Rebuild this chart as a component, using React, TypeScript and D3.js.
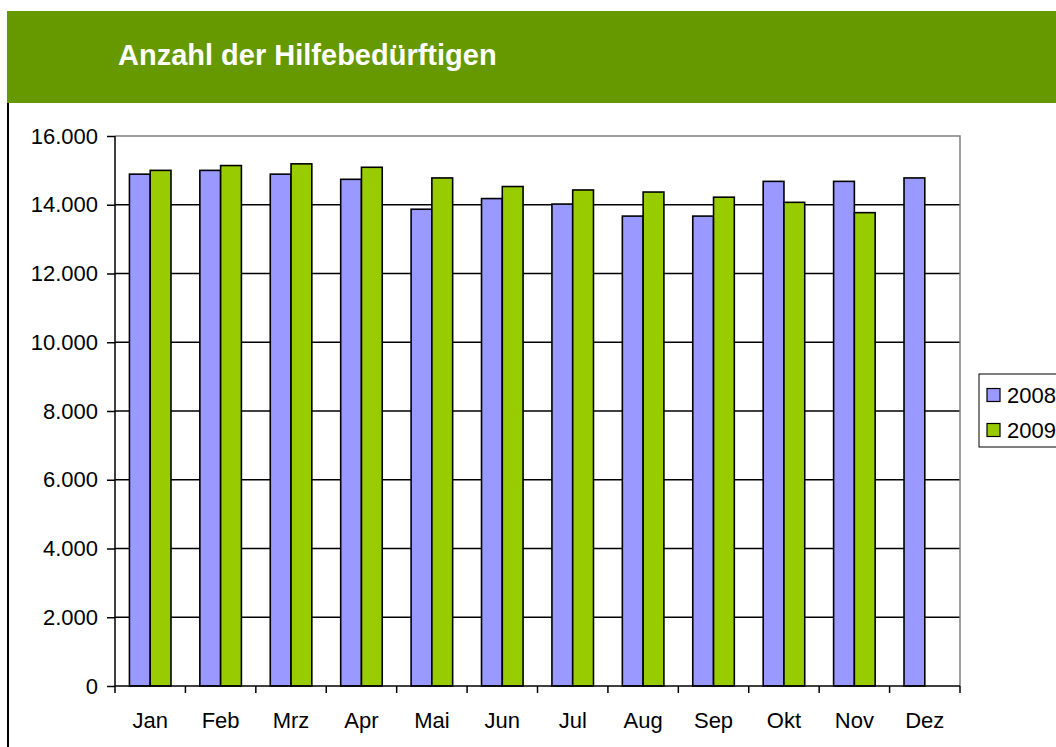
import { useEffect, useRef } from "react";
import * as d3 from "d3";

const months = ["Jan", "Feb", "Mrz", "Apr", "Mai", "Jun", "Jul", "Aug", "Sep", "Okt", "Nov", "Dez"];
const values2008 = [14890, 15000, 14890, 14740, 13870, 14180, 14020, 13670, 13670, 14680, 14680, 14780];
const values2009: (number | null)[] = [15000, 15140, 15190, 15090, 14780, 14530, 14430, 14370, 14220, 14070, 13770, null];
const yTicks = [0, 2000, 4000, 6000, 8000, 10000, 12000, 14000, 16000];
const seriesNames = ["2008", "2009"];
const seriesColors = ["#9999ff", "#99cc00"];

const W = 1056;
const H = 747;
const FONT = "Liberation Sans, Arial, sans-serif";

export default function App() {
  const svgRef = useRef<SVGSVGElement | null>(null);

  useEffect(() => {
    const svg = svgRef.current;
    if (!svg) return;
    svg.innerHTML = "";
    const root = d3.select(svg);

    const plot = { left: 115, right: 960, top: 136, bottom: 686 };
    const de = d3.formatLocale({
      decimal: ",",
      thousands: ".",
      grouping: [3],
      currency: ["", " €"],
    });
    const fmt = de.format(",d");

    // header band
    root.append("rect").attr("x", 7).attr("y", 11).attr("width", W - 7).attr("height", 92).attr("fill", "#669900");
    root
      .append("text")
      .attr("x", 118)
      .attr("y", 65)
      .attr("fill", "#ffffff")
      .attr("font-family", FONT)
      .attr("font-weight", "bold")
      .attr("font-size", 29)
      .text("Anzahl der Hilfebedürftigen");

    // left frame line
    root.append("line").attr("x1", 8).attr("x2", 8).attr("y1", 103).attr("y2", H).attr("stroke", "#000").attr("stroke-width", 2);

    const x = d3
      .scaleBand()
      .domain(months)
      .range([plot.left, plot.right])
      .paddingInner(0.41)
      .paddingOuter(0.205);
    const xs = d3.scaleBand().domain(seriesNames).range([0, x.bandwidth()]).padding(0);
    const y = d3.scaleLinear().domain([0, 16000]).range([plot.bottom, plot.top]);

    const g = root.append("g");

    // gridlines
    g.selectAll("line.grid")
      .data(yTicks.filter((t) => t > 0 && t < 16000))
      .join("line")
      .attr("x1", plot.left)
      .attr("x2", plot.right)
      .attr("y1", (d) => y(d))
      .attr("y2", (d) => y(d))
      .attr("stroke", "#000")
      .attr("stroke-width", 1.5);

    // plot border (top, right) gray
    g.append("path")
      .attr("d", `M${plot.left},${y(16000)}H${plot.right}V${plot.bottom}`)
      .attr("fill", "none")
      .attr("stroke", "#808080")
      .attr("stroke-width", 1.5);

    // bars
    const series = [values2008, values2009];
    series.forEach((vals, si) => {
      g.append("g")
        .selectAll("rect")
        .data(months.map((m, i) => ({ m, v: vals[i] })).filter((d) => d.v != null))
        .join("rect")
        .attr("x", (d) => x(d.m)! + xs(seriesNames[si])!)
        .attr("y", (d) => y(d.v as number))
        .attr("width", xs.bandwidth())
        .attr("height", (d) => plot.bottom - y(d.v as number))
        .attr("fill", seriesColors[si])
        .attr("stroke", "#000")
        .attr("stroke-width", 1.6);
    });

    // y axis
    const yAxis = g
      .append("g")
      .attr("transform", `translate(${plot.left},0)`)
      .call(d3.axisLeft(y).tickValues(yTicks).tickFormat((d) => fmt(d as number)).tickSize(8).tickPadding(9));
    yAxis.select(".domain").attr("stroke", "#000").attr("stroke-width", 1.5).attr("d", `M0,${plot.top}V${plot.bottom}`);
    yAxis.selectAll(".tick line").attr("stroke", "#000").attr("stroke-width", 1.5);
    yAxis.selectAll("text").attr("font-family", FONT).attr("font-size", 22).attr("fill", "#000");

    // x axis
    const xAxis = g
      .append("g")
      .attr("transform", `translate(0,${plot.bottom})`)
      .call(d3.axisBottom(x).tickSize(0).tickPadding(26));
    xAxis.select(".domain").attr("stroke", "#000").attr("stroke-width", 1.5).attr("d", `M${plot.left},0H${plot.right}`);
    xAxis.selectAll("text").attr("font-family", FONT).attr("font-size", 22).attr("fill", "#000");
    xAxis
      .selectAll("line.cat")
      .data(d3.range(months.length + 1))
      .join("line")
      .attr("class", "cat")
      .attr("x1", (i) => plot.left + i * x.step())
      .attr("x2", (i) => plot.left + i * x.step())
      .attr("y1", 0)
      .attr("y2", 7)
      .attr("stroke", "#000")
      .attr("stroke-width", 1.5);

    // legend
    const lg = root.append("g").attr("transform", "translate(979,374)");
    lg.append("rect").attr("x", 0).attr("y", 0).attr("width", 90).attr("height", 73).attr("fill", "#fff").attr("stroke", "#000").attr("stroke-width", 1);
    seriesNames.forEach((name, i) => {
      const cy = 21 + i * 35;
      lg.append("rect")
        .attr("x", 8)
        .attr("y", cy - 6.5)
        .attr("width", 13)
        .attr("height", 13)
        .attr("fill", seriesColors[i])
        .attr("stroke", "#000")
        .attr("stroke-width", 1.2);
      lg.append("text")
        .attr("x", 28)
        .attr("y", cy)
        .attr("dy", "0.36em")
        .attr("font-family", FONT)
        .attr("font-size", 22)
        .attr("fill", "#000")
        .text(name);
    });
  }, []);

  return (
    <svg
      ref={svgRef}
      width={W}
      height={H}
      style={{ position: "absolute", left: 0, top: 0, background: "#fff" }}
    />
  );
}
